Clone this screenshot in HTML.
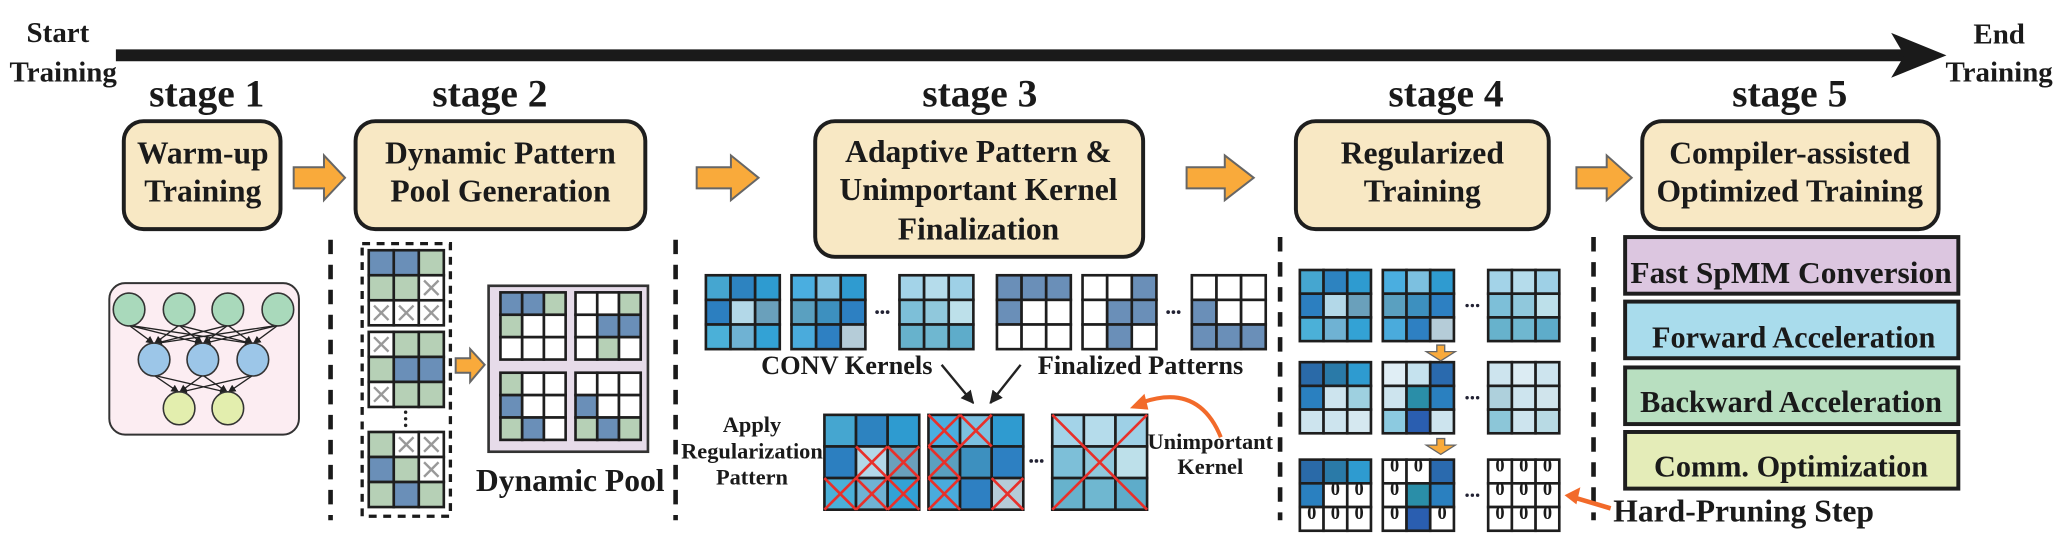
<!DOCTYPE html>
<html><head><meta charset="utf-8"><style>
html,body{margin:0;padding:0;background:#fff;}
svg{display:block;}
text{font-family:"Liberation Serif",serif;font-weight:bold;fill:#1a1a1a;}
</style></head><body>
<svg width="2065" height="538" viewBox="0 0 1568 408.5" preserveAspectRatio="none" xmlns="http://www.w3.org/2000/svg">
<defs>
<marker id="ah" markerWidth="8" markerHeight="8" refX="6" refY="3" orient="auto" markerUnits="userSpaceOnUse"><path d="M0,0 L6,3 L0,6 Z" fill="#222"/></marker>
<marker id="ah2" markerWidth="12" markerHeight="12" refX="9" refY="5" orient="auto" markerUnits="userSpaceOnUse"><path d="M0,0 L10,5 L0,10 Z" fill="#222"/></marker>
</defs>

<text x="44" y="32" font-size="22" text-anchor="middle">Start</text>
<text x="48" y="62" font-size="22" text-anchor="middle">Training</text>
<line x1="88" y1="42" x2="1448" y2="42" stroke="#1a1a1a" stroke-width="9"/>
<polygon points="1436,25 1478,42 1436,59 1446,42" fill="#1a1a1a"/>
<text x="1518" y="33" font-size="22" text-anchor="middle">End</text>
<text x="1518" y="62" font-size="22" text-anchor="middle">Training</text>

<g font-size="30" text-anchor="middle">
<text x="157" y="81">stage 1</text>
<text x="372" y="81">stage 2</text>
<text x="744" y="81">stage 3</text>
<text x="1098" y="81">stage 4</text>
<text x="1359" y="81">stage 5</text>
</g>

<g fill="#f8e8c4" stroke="#1e1e1e" stroke-width="3">
<rect x="94" y="92" width="119" height="82" rx="15"/>
<rect x="270" y="92" width="220" height="82" rx="15"/>
<rect x="619" y="92" width="249" height="103" rx="15"/>
<rect x="984" y="92" width="192" height="82" rx="15"/>
<rect x="1247" y="92" width="225" height="82" rx="15"/>
</g>
<g font-size="24" text-anchor="middle">
<text x="154" y="124">Warm-up</text><text x="154" y="153">Training</text>
<text x="380" y="124">Dynamic Pattern</text><text x="380" y="153">Pool Generation</text>
<text x="743" y="123">Adaptive Pattern &amp;</text><text x="743" y="152">Unimportant Kernel</text><text x="743" y="182">Finalization</text>
<text x="1080" y="124">Regularized</text><text x="1080" y="153">Training</text>
<text x="1359" y="124">Compiler-assisted</text><text x="1359" y="153">Optimized Training</text>
</g>

<g fill="#f9aa3b" stroke="#666" stroke-width="1.5">
<polygon points="223,127 246,127 246,118 262,135 246,152 246,143 223,143"/>
<polygon points="529,127 555,127 555,118 576,135 555,152 555,143 529,143"/>
<polygon points="901,127 930,127 930,118 952,135 930,152 930,143 901,143"/>
<polygon points="1197,127 1220,127 1220,118 1239,135 1220,152 1220,143 1197,143"/>
<polygon points="346,272 357,272 357,265 368,277 357,290 357,283 346,283"/>
</g>

<g stroke="#1a1a1a" stroke-width="3.5" stroke-dasharray="11 8">
<line x1="251" y1="182" x2="251" y2="395"/>
<line x1="513" y1="182" x2="513" y2="395"/>
<line x1="972" y1="180" x2="972" y2="395"/>
<line x1="1210" y1="180" x2="1210" y2="395"/>
</g>

<rect x="83" y="215" width="144" height="115" rx="12" fill="#fcedf2" stroke="#333" stroke-width="1.5"/>
<g stroke="#222" stroke-width="1" marker-end="url(#ah)">
<line x1="98" y1="247" x2="117" y2="261"/><line x1="98" y1="247" x2="154" y2="261"/><line x1="98" y1="247" x2="192" y2="261"/>
<line x1="136" y1="247" x2="117" y2="261"/><line x1="136" y1="247" x2="154" y2="261"/><line x1="136" y1="247" x2="192" y2="261"/>
<line x1="173" y1="247" x2="117" y2="261"/><line x1="173" y1="247" x2="154" y2="261"/><line x1="173" y1="247" x2="192" y2="261"/>
<line x1="211" y1="247" x2="117" y2="261"/><line x1="211" y1="247" x2="154" y2="261"/><line x1="211" y1="247" x2="192" y2="261"/>
<line x1="117" y1="285" x2="136" y2="298"/><line x1="117" y1="285" x2="173" y2="298"/>
<line x1="154" y1="285" x2="136" y2="298"/><line x1="154" y1="285" x2="173" y2="298"/>
<line x1="192" y1="285" x2="136" y2="298"/><line x1="192" y1="285" x2="173" y2="298"/>
</g>
<g stroke="#333" stroke-width="1.2">
<ellipse cx="98" cy="235" rx="12" ry="12.5" fill="#a9d9bb"/><ellipse cx="136" cy="235" rx="12" ry="12.5" fill="#a9d9bb"/>
<ellipse cx="173" cy="235" rx="12" ry="12.5" fill="#a9d9bb"/><ellipse cx="211" cy="235" rx="12" ry="12.5" fill="#a9d9bb"/>
<ellipse cx="117" cy="273" rx="12" ry="12.5" fill="#9cc6e8"/><ellipse cx="154" cy="273" rx="12" ry="12.5" fill="#9cc6e8"/><ellipse cx="192" cy="273" rx="12" ry="12.5" fill="#9cc6e8"/>
<ellipse cx="136" cy="310" rx="12" ry="12.5" fill="#e3eeae"/><ellipse cx="173" cy="310" rx="12" ry="12.5" fill="#e3eeae"/>
</g>

<rect x="275" y="185" width="67" height="207" fill="none" stroke="#1a1a1a" stroke-width="2.5" stroke-dasharray="6 5"/>
<g stroke="#1e1e1e" stroke-width="2">
<rect x="280" y="190" width="19" height="19" fill="#6a8fb8"/><rect x="299" y="190" width="19" height="19" fill="#6a8fb8"/><rect x="318" y="190" width="19" height="19" fill="#b6d0b6"/>
<rect x="280" y="209" width="19" height="19" fill="#b6d0b6"/><rect x="299" y="209" width="19" height="19" fill="#b6d0b6"/><rect x="318" y="209" width="19" height="19" fill="#fff"/>
<rect x="280" y="228" width="19" height="19" fill="#fff"/><rect x="299" y="228" width="19" height="19" fill="#fff"/><rect x="318" y="228" width="19" height="19" fill="#fff"/>
<rect x="280" y="252" width="19" height="19" fill="#fff"/><rect x="299" y="252" width="19" height="19" fill="#b6d0b6"/><rect x="318" y="252" width="19" height="19" fill="#b6d0b6"/>
<rect x="280" y="271" width="19" height="19" fill="#b6d0b6"/><rect x="299" y="271" width="19" height="19" fill="#6a8fb8"/><rect x="318" y="271" width="19" height="19" fill="#6a8fb8"/>
<rect x="280" y="290" width="19" height="19" fill="#fff"/><rect x="299" y="290" width="19" height="19" fill="#b6d0b6"/><rect x="318" y="290" width="19" height="19" fill="#b6d0b6"/>
<rect x="280" y="328" width="19" height="19" fill="#b6d0b6"/><rect x="299" y="328" width="19" height="19" fill="#fff"/><rect x="318" y="328" width="19" height="19" fill="#fff"/>
<rect x="280" y="347" width="19" height="19" fill="#6a8fb8"/><rect x="299" y="347" width="19" height="19" fill="#b6d0b6"/><rect x="318" y="347" width="19" height="19" fill="#fff"/>
<rect x="280" y="366" width="19" height="19" fill="#b6d0b6"/><rect x="299" y="366" width="19" height="19" fill="#6a8fb8"/><rect x="318" y="366" width="19" height="19" fill="#b6d0b6"/>
</g>
<g stroke="#999" stroke-width="1.8">
<path d="M322,213 l11,11 M333,213 l-11,11"/>
<path d="M284,232 l11,11 M295,232 l-11,11 M303,232 l11,11 M314,232 l-11,11 M322,232 l11,11 M333,232 l-11,11"/>
<path d="M284,256 l11,11 M295,256 l-11,11 M284,294 l11,11 M295,294 l-11,11"/>
<path d="M303,332 l11,11 M314,332 l-11,11 M322,332 l11,11 M333,332 l-11,11 M322,351 l11,11 M333,351 l-11,11"/>
</g>
<g fill="#222"><circle cx="308" cy="313" r="1.3"/><circle cx="308" cy="318" r="1.3"/><circle cx="308" cy="323" r="1.3"/></g>

<rect x="371" y="217" width="121" height="126" fill="#e6dbe9" stroke="#333" stroke-width="2"/>
<g stroke="#1e1e1e" stroke-width="2">
<rect x="380" y="222" width="16.5" height="17" fill="#6a8fb8"/><rect x="396.5" y="222" width="16.5" height="17" fill="#6a8fb8"/><rect x="413" y="222" width="16.5" height="17" fill="#b6d0b6"/>
<rect x="380" y="239" width="16.5" height="17" fill="#b6d0b6"/><rect x="396.5" y="239" width="16.5" height="17" fill="#fff"/><rect x="413" y="239" width="16.5" height="17" fill="#fff"/>
<rect x="380" y="256" width="16.5" height="17" fill="#fff"/><rect x="396.5" y="256" width="16.5" height="17" fill="#fff"/><rect x="413" y="256" width="16.5" height="17" fill="#fff"/>
<rect x="437" y="222" width="16.5" height="17" fill="#fff"/><rect x="453.5" y="222" width="16.5" height="17" fill="#fff"/><rect x="470" y="222" width="16.5" height="17" fill="#b6d0b6"/>
<rect x="437" y="239" width="16.5" height="17" fill="#fff"/><rect x="453.5" y="239" width="16.5" height="17" fill="#6a8fb8"/><rect x="470" y="239" width="16.5" height="17" fill="#6a8fb8"/>
<rect x="437" y="256" width="16.5" height="17" fill="#fff"/><rect x="453.5" y="256" width="16.5" height="17" fill="#b6d0b6"/><rect x="470" y="256" width="16.5" height="17" fill="#fff"/>
<rect x="380" y="283" width="16.5" height="17" fill="#b6d0b6"/><rect x="396.5" y="283" width="16.5" height="17" fill="#fff"/><rect x="413" y="283" width="16.5" height="17" fill="#fff"/>
<rect x="380" y="300" width="16.5" height="17" fill="#6a8fb8"/><rect x="396.5" y="300" width="16.5" height="17" fill="#fff"/><rect x="413" y="300" width="16.5" height="17" fill="#fff"/>
<rect x="380" y="317" width="16.5" height="17" fill="#b6d0b6"/><rect x="396.5" y="317" width="16.5" height="17" fill="#6a8fb8"/><rect x="413" y="317" width="16.5" height="17" fill="#fff"/>
<rect x="437" y="283" width="16.5" height="17" fill="#fff"/><rect x="453.5" y="283" width="16.5" height="17" fill="#fff"/><rect x="470" y="283" width="16.5" height="17" fill="#fff"/>
<rect x="437" y="300" width="16.5" height="17" fill="#6a8fb8"/><rect x="453.5" y="300" width="16.5" height="17" fill="#fff"/><rect x="470" y="300" width="16.5" height="17" fill="#fff"/>
<rect x="437" y="317" width="16.5" height="17" fill="#b6d0b6"/><rect x="453.5" y="317" width="16.5" height="17" fill="#6a8fb8"/><rect x="470" y="317" width="16.5" height="17" fill="#b6d0b6"/>
</g>
<text x="433" y="373" font-size="24" text-anchor="middle">Dynamic Pool</text>

<g stroke="#1e1e1e" stroke-width="2">
<g transform="translate(536,209)">
<rect x="0" y="0" width="18.7" height="18.7" fill="#45a6d0"/><rect x="18.7" y="0" width="18.7" height="18.7" fill="#2d83c0"/><rect x="37.4" y="0" width="18.7" height="18.7" fill="#2e9bd0"/>
<rect x="0" y="18.7" width="18.7" height="18.7" fill="#2c7fc0"/><rect x="18.7" y="18.7" width="18.7" height="18.7" fill="#b3d8e8"/><rect x="37.4" y="18.7" width="18.7" height="18.7" fill="#6aa0bb"/>
<rect x="0" y="37.4" width="18.7" height="18.7" fill="#4bb0d8"/><rect x="18.7" y="37.4" width="18.7" height="18.7" fill="#6fb2d3"/><rect x="37.4" y="37.4" width="18.7" height="18.7" fill="#33a2d5"/>
</g>
<g transform="translate(601,209)">
<rect x="0" y="0" width="18.7" height="18.7" fill="#4aaee0"/><rect x="18.7" y="0" width="18.7" height="18.7" fill="#7cc0e0"/><rect x="37.4" y="0" width="18.7" height="18.7" fill="#2f9bd0"/>
<rect x="0" y="18.7" width="18.7" height="18.7" fill="#5aa0c0"/><rect x="18.7" y="18.7" width="18.7" height="18.7" fill="#3d90bf"/><rect x="37.4" y="18.7" width="18.7" height="18.7" fill="#2d80c2"/>
<rect x="0" y="37.4" width="18.7" height="18.7" fill="#4aabdc"/><rect x="18.7" y="37.4" width="18.7" height="18.7" fill="#2e80c2"/><rect x="37.4" y="37.4" width="18.7" height="18.7" fill="#b5ccd8"/>
</g>
<g transform="translate(683,209)">
<rect x="0" y="0" width="18.7" height="18.7" fill="#a3d3e8"/><rect x="18.7" y="0" width="18.7" height="18.7" fill="#b5dceb"/><rect x="37.4" y="0" width="18.7" height="18.7" fill="#9ed0e6"/>
<rect x="0" y="18.7" width="18.7" height="18.7" fill="#7dbfd8"/><rect x="18.7" y="18.7" width="18.7" height="18.7" fill="#90c8dc"/><rect x="37.4" y="18.7" width="18.7" height="18.7" fill="#bde0ea"/>
<rect x="0" y="37.4" width="18.7" height="18.7" fill="#67b2cc"/><rect x="18.7" y="37.4" width="18.7" height="18.7" fill="#6fb7d0"/><rect x="37.4" y="37.4" width="18.7" height="18.7" fill="#5eacca"/>
</g>
<g transform="translate(757,209)">
<rect x="0" y="0" width="18.7" height="18.7" fill="#6a8fb8"/><rect x="18.7" y="0" width="18.7" height="18.7" fill="#6a8fb8"/><rect x="37.4" y="0" width="18.7" height="18.7" fill="#6a8fb8"/>
<rect x="0" y="18.7" width="18.7" height="18.7" fill="#6a8fb8"/><rect x="18.7" y="18.7" width="18.7" height="18.7" fill="#fff"/><rect x="37.4" y="18.7" width="18.7" height="18.7" fill="#fff"/>
<rect x="0" y="37.4" width="18.7" height="18.7" fill="#fff"/><rect x="18.7" y="37.4" width="18.7" height="18.7" fill="#fff"/><rect x="37.4" y="37.4" width="18.7" height="18.7" fill="#fff"/>
</g>
<g transform="translate(822,209)">
<rect x="0" y="0" width="18.7" height="18.7" fill="#fff"/><rect x="18.7" y="0" width="18.7" height="18.7" fill="#fff"/><rect x="37.4" y="0" width="18.7" height="18.7" fill="#6a8fb8"/>
<rect x="0" y="18.7" width="18.7" height="18.7" fill="#fff"/><rect x="18.7" y="18.7" width="18.7" height="18.7" fill="#6a8fb8"/><rect x="37.4" y="18.7" width="18.7" height="18.7" fill="#6a8fb8"/>
<rect x="0" y="37.4" width="18.7" height="18.7" fill="#fff"/><rect x="18.7" y="37.4" width="18.7" height="18.7" fill="#6a8fb8"/><rect x="37.4" y="37.4" width="18.7" height="18.7" fill="#fff"/>
</g>
<g transform="translate(905,209)">
<rect x="0" y="0" width="18.7" height="18.7" fill="#fff"/><rect x="18.7" y="0" width="18.7" height="18.7" fill="#fff"/><rect x="37.4" y="0" width="18.7" height="18.7" fill="#fff"/>
<rect x="0" y="18.7" width="18.7" height="18.7" fill="#6a8fb8"/><rect x="18.7" y="18.7" width="18.7" height="18.7" fill="#fff"/><rect x="37.4" y="18.7" width="18.7" height="18.7" fill="#fff"/>
<rect x="0" y="37.4" width="18.7" height="18.7" fill="#6a8fb8"/><rect x="18.7" y="37.4" width="18.7" height="18.7" fill="#6a8fb8"/><rect x="37.4" y="37.4" width="18.7" height="18.7" fill="#6a8fb8"/>
</g>
</g>
<g fill="#223"><circle cx="666" cy="237" r="1.4"/><circle cx="670" cy="237" r="1.4"/><circle cx="674" cy="237" r="1.4"/>
<circle cx="887" cy="237" r="1.4"/><circle cx="891" cy="237" r="1.4"/><circle cx="895" cy="237" r="1.4"/></g>
<text x="643" y="284" font-size="20" text-anchor="middle">CONV Kernels</text>
<text x="866" y="284" font-size="20" text-anchor="middle">Finalized Patterns</text>
<line x1="715" y1="277" x2="739" y2="306" stroke="#222" stroke-width="1.8" marker-end="url(#ah2)"/>
<line x1="775" y1="277" x2="752" y2="306" stroke="#222" stroke-width="1.8" marker-end="url(#ah2)"/>

<g font-size="17" text-anchor="middle">
<text x="571" y="328">Apply</text><text x="571" y="348">Regularization</text><text x="571" y="368">Pattern</text>
<text x="919" y="341">Unimportant</text><text x="919" y="360">Kernel</text>
</g>
<g stroke="#1e1e1e" stroke-width="2">
<g transform="translate(626,315)">
<rect x="0" y="0" width="24" height="24" fill="#45a6d0"/><rect x="24" y="0" width="24" height="24" fill="#2d83c0"/><rect x="48" y="0" width="24" height="24" fill="#2e9bd0"/>
<rect x="0" y="24" width="24" height="24" fill="#2c7fc0"/><rect x="24" y="24" width="24" height="24" fill="#b3d8e8"/><rect x="48" y="24" width="24" height="24" fill="#6aa0bb"/>
<rect x="0" y="48" width="24" height="24" fill="#4bb0d8"/><rect x="24" y="48" width="24" height="24" fill="#6fb2d3"/><rect x="48" y="48" width="24" height="24" fill="#33a2d5"/>
</g>
<g transform="translate(705,315)">
<rect x="0" y="0" width="24" height="24" fill="#4aaee0"/><rect x="24" y="0" width="24" height="24" fill="#7cc0e0"/><rect x="48" y="0" width="24" height="24" fill="#2f9bd0"/>
<rect x="0" y="24" width="24" height="24" fill="#5aa0c0"/><rect x="24" y="24" width="24" height="24" fill="#3d90bf"/><rect x="48" y="24" width="24" height="24" fill="#2d80c2"/>
<rect x="0" y="48" width="24" height="24" fill="#4aabdc"/><rect x="24" y="48" width="24" height="24" fill="#2e80c2"/><rect x="48" y="48" width="24" height="24" fill="#b5ccd8"/>
</g>
<g transform="translate(799,315)">
<rect x="0" y="0" width="24" height="24" fill="#a3d3e8"/><rect x="24" y="0" width="24" height="24" fill="#b5dceb"/><rect x="48" y="0" width="24" height="24" fill="#9ed0e6"/>
<rect x="0" y="24" width="24" height="24" fill="#7dbfd8"/><rect x="24" y="24" width="24" height="24" fill="#90c8dc"/><rect x="48" y="24" width="24" height="24" fill="#bde0ea"/>
<rect x="0" y="48" width="24" height="24" fill="#67b2cc"/><rect x="24" y="48" width="24" height="24" fill="#6fb7d0"/><rect x="48" y="48" width="24" height="24" fill="#5eacca"/>
</g>
</g>
<g stroke="#e8302a" stroke-width="2">
<path d="M650,339 l24,24 M674,339 l-24,24 M674,339 l24,24 M698,339 l-24,24"/>
<path d="M626,363 l24,24 M650,363 l-24,24 M650,363 l24,24 M674,363 l-24,24 M674,363 l24,24 M698,363 l-24,24"/>
<path d="M705,315 l24,24 M729,315 l-24,24 M729,315 l24,24 M753,315 l-24,24"/>
<path d="M705,339 l24,24 M729,339 l-24,24 M705,363 l24,24 M729,363 l-24,24 M753,363 l24,24 M777,363 l-24,24"/>
<path d="M799,315 L871,387 M871,315 L799,387"/>
</g>
<g fill="#223"><circle cx="783" cy="350" r="1.4"/><circle cx="787" cy="350" r="1.4"/><circle cx="791" cy="350" r="1.4"/></g>
<path d="M927,332 Q910,290 866,306" fill="none" stroke="#f26a2a" stroke-width="3"/>
<polygon points="858,310 869,299 872,311" fill="#f26a2a"/>

<g stroke="#1e1e1e" stroke-width="2">
<g transform="translate(987,205)">
<rect x="0" y="0" width="18" height="18" fill="#45a6d0"/><rect x="18" y="0" width="18" height="18" fill="#2d83c0"/><rect x="36" y="0" width="18" height="18" fill="#2e9bd0"/>
<rect x="0" y="18" width="18" height="18" fill="#2c7fc0"/><rect x="18" y="18" width="18" height="18" fill="#b3d8e8"/><rect x="36" y="18" width="18" height="18" fill="#6aa0bb"/>
<rect x="0" y="36" width="18" height="18" fill="#4bb0d8"/><rect x="18" y="36" width="18" height="18" fill="#6fb2d3"/><rect x="36" y="36" width="18" height="18" fill="#33a2d5"/>
</g>
<g transform="translate(1050,205)">
<rect x="0" y="0" width="18" height="18" fill="#4aaee0"/><rect x="18" y="0" width="18" height="18" fill="#7cc0e0"/><rect x="36" y="0" width="18" height="18" fill="#2f9bd0"/>
<rect x="0" y="18" width="18" height="18" fill="#5aa0c0"/><rect x="18" y="18" width="18" height="18" fill="#3d90bf"/><rect x="36" y="18" width="18" height="18" fill="#2d80c2"/>
<rect x="0" y="36" width="18" height="18" fill="#4aabdc"/><rect x="18" y="36" width="18" height="18" fill="#2e80c2"/><rect x="36" y="36" width="18" height="18" fill="#b5ccd8"/>
</g>
<g transform="translate(1130,205)">
<rect x="0" y="0" width="18" height="18" fill="#a3d3e8"/><rect x="18" y="0" width="18" height="18" fill="#b5dceb"/><rect x="36" y="0" width="18" height="18" fill="#9ed0e6"/>
<rect x="0" y="18" width="18" height="18" fill="#7dbfd8"/><rect x="18" y="18" width="18" height="18" fill="#90c8dc"/><rect x="36" y="18" width="18" height="18" fill="#bde0ea"/>
<rect x="0" y="36" width="18" height="18" fill="#67b2cc"/><rect x="18" y="36" width="18" height="18" fill="#6fb7d0"/><rect x="36" y="36" width="18" height="18" fill="#5eacca"/>
</g>
<g transform="translate(987,275)">
<rect x="0" y="0" width="18" height="18" fill="#2a6aa8"/><rect x="18" y="0" width="18" height="18" fill="#2a7aa8"/><rect x="36" y="0" width="18" height="18" fill="#2e9bd0"/>
<rect x="0" y="18" width="18" height="18" fill="#2a80c0"/><rect x="18" y="18" width="18" height="18" fill="#cde4ee"/><rect x="36" y="18" width="18" height="18" fill="#9ed0e0"/>
<rect x="0" y="36" width="18" height="18" fill="#cde4ee"/><rect x="18" y="36" width="18" height="18" fill="#cde4ee"/><rect x="36" y="36" width="18" height="18" fill="#d5e8f0"/>
</g>
<g transform="translate(1050,275)">
<rect x="0" y="0" width="18" height="18" fill="#e0eef5"/><rect x="18" y="0" width="18" height="18" fill="#c5e2ee"/><rect x="36" y="0" width="18" height="18" fill="#2a6aae"/>
<rect x="0" y="18" width="18" height="18" fill="#cde4ee"/><rect x="18" y="18" width="18" height="18" fill="#2a8ea8"/><rect x="36" y="18" width="18" height="18" fill="#2a80c0"/>
<rect x="0" y="36" width="18" height="18" fill="#8ccae0"/><rect x="18" y="36" width="18" height="18" fill="#2a5eb0"/><rect x="36" y="36" width="18" height="18" fill="#cde4ee"/>
</g>
<g transform="translate(1130,275)">
<rect x="0" y="0" width="18" height="18" fill="#cde4ee"/><rect x="18" y="0" width="18" height="18" fill="#dcecf3"/><rect x="36" y="0" width="18" height="18" fill="#cde4ee"/>
<rect x="0" y="18" width="18" height="18" fill="#aed0dc"/><rect x="18" y="18" width="18" height="18" fill="#cde4ee"/><rect x="36" y="18" width="18" height="18" fill="#d0e4ec"/>
<rect x="0" y="36" width="18" height="18" fill="#8cc6d8"/><rect x="18" y="36" width="18" height="18" fill="#cde4ee"/><rect x="36" y="36" width="18" height="18" fill="#b8dae4"/>
</g>
<g transform="translate(987,349)">
<rect x="0" y="0" width="18" height="18" fill="#2a6aa8"/><rect x="18" y="0" width="18" height="18" fill="#2a7aa8"/><rect x="36" y="0" width="18" height="18" fill="#2e9bd0"/>
<rect x="0" y="18" width="18" height="18" fill="#2a80c0"/><rect x="18" y="18" width="18" height="18" fill="#fff"/><rect x="36" y="18" width="18" height="18" fill="#fff"/>
<rect x="0" y="36" width="18" height="18" fill="#fff"/><rect x="18" y="36" width="18" height="18" fill="#fff"/><rect x="36" y="36" width="18" height="18" fill="#fff"/>
</g>
<g transform="translate(1050,349)">
<rect x="0" y="0" width="18" height="18" fill="#fff"/><rect x="18" y="0" width="18" height="18" fill="#fff"/><rect x="36" y="0" width="18" height="18" fill="#2a6aae"/>
<rect x="0" y="18" width="18" height="18" fill="#fff"/><rect x="18" y="18" width="18" height="18" fill="#2a8ea8"/><rect x="36" y="18" width="18" height="18" fill="#2a80c0"/>
<rect x="0" y="36" width="18" height="18" fill="#fff"/><rect x="18" y="36" width="18" height="18" fill="#2a5eb0"/><rect x="36" y="36" width="18" height="18" fill="#fff"/>
</g>
<g transform="translate(1130,349)">
<rect x="0" y="0" width="18" height="18" fill="#fff"/><rect x="18" y="0" width="18" height="18" fill="#fff"/><rect x="36" y="0" width="18" height="18" fill="#fff"/>
<rect x="0" y="18" width="18" height="18" fill="#fff"/><rect x="18" y="18" width="18" height="18" fill="#fff"/><rect x="36" y="18" width="18" height="18" fill="#fff"/>
<rect x="0" y="36" width="18" height="18" fill="#fff"/><rect x="18" y="36" width="18" height="18" fill="#fff"/><rect x="36" y="36" width="18" height="18" fill="#fff"/>
</g>
</g>
<g font-size="14" text-anchor="middle">
<text x="1014" y="376">0</text><text x="1032" y="376">0</text>
<text x="996" y="394">0</text><text x="1014" y="394">0</text><text x="1032" y="394">0</text>
<text x="1059" y="358">0</text><text x="1077" y="358">0</text>
<text x="1059" y="376">0</text><text x="1059" y="394">0</text><text x="1095" y="394">0</text>
<text x="1139" y="358">0</text><text x="1157" y="358">0</text><text x="1175" y="358">0</text>
<text x="1139" y="376">0</text><text x="1157" y="376">0</text><text x="1175" y="376">0</text>
<text x="1139" y="394">0</text><text x="1157" y="394">0</text><text x="1175" y="394">0</text>
</g>
<g fill="#223">
<circle cx="1114" cy="232" r="1.3"/><circle cx="1118" cy="232" r="1.3"/><circle cx="1122" cy="232" r="1.3"/>
<circle cx="1114" cy="302" r="1.3"/><circle cx="1118" cy="302" r="1.3"/><circle cx="1122" cy="302" r="1.3"/>
<circle cx="1114" cy="376" r="1.3"/><circle cx="1118" cy="376" r="1.3"/><circle cx="1122" cy="376" r="1.3"/>
</g>
<g fill="#f9aa3b" stroke="#666" stroke-width="1">
<path d="M1091,262 h6 v5 h8 l-11,7 l-11,-7 h8 z"/>
<path d="M1091,333 h6 v5 h8 l-11,7 l-11,-7 h8 z"/>
</g>
<line x1="1223" y1="386" x2="1196" y2="378" stroke="#f26a2a" stroke-width="3.5"/>
<polygon points="1188,376 1200,370 1197,383" fill="#f26a2a"/>
<text x="1225" y="396" font-size="24">Hard-Pruning Step</text>

<g stroke="#1e1e1e" stroke-width="3">
<rect x="1234" y="180" width="253" height="43" fill="#dcc6e0"/>
<rect x="1234" y="229" width="253" height="43" fill="#a9dcec"/>
<rect x="1234" y="279" width="253" height="43" fill="#b8dfc0"/>
<rect x="1234" y="328" width="253" height="43" fill="#e4ecb8"/>
</g>
<g font-size="23" text-anchor="middle">
<text x="1360" y="215" textLength="244" lengthAdjust="spacingAndGlyphs">Fast SpMM Conversion</text>
<text x="1362" y="264">Forward Acceleration</text>
<text x="1360" y="313">Backward Acceleration</text>
<text x="1360" y="362">Comm. Optimization</text>
</g>
</svg>
</body></html>
